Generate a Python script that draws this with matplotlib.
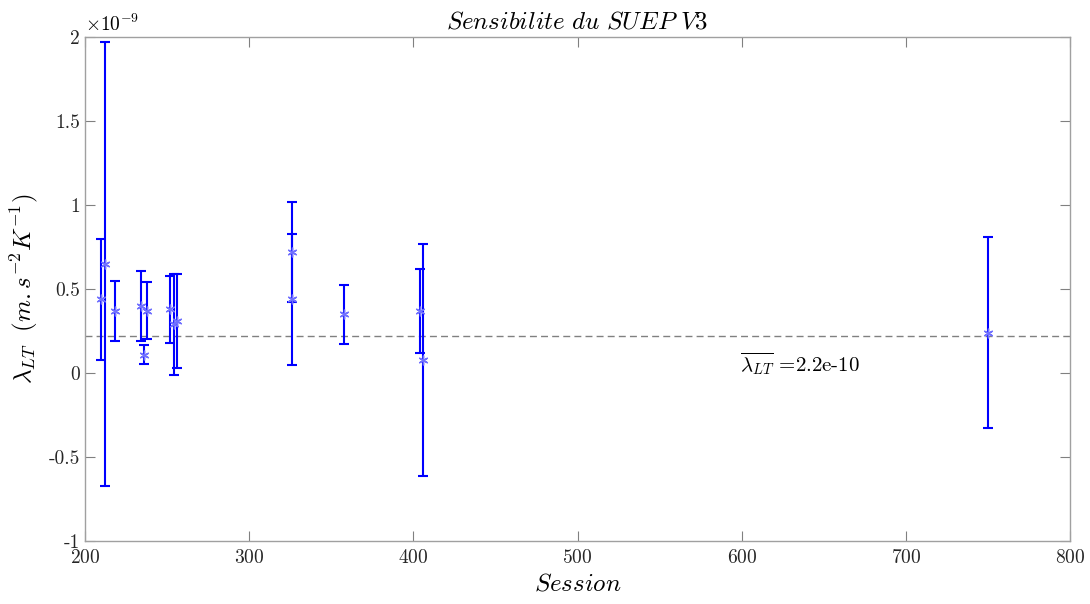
import matplotlib
matplotlib.use("Agg")
import matplotlib.pyplot as plt

plt.rcParams['font.family'] = 'serif'
plt.rcParams['font.serif'] = ['cmr10']
plt.rcParams['mathtext.fontset'] = 'cm'
plt.rcParams['axes.formatter.use_mathtext'] = True

# sessions, sensitivity (x1e-9) and half error bar (x1e-9)
sessions = [210, 212, 218, 234, 236, 238, 252, 254, 256, 326, 326, 358, 404, 406, 750]
lam = [0.44, 0.65, 0.37, 0.40, 0.11, 0.37, 0.38, 0.29, 0.31, 0.72, 0.44, 0.35, 0.37, 0.075, 0.24]
err = [0.36, 1.32, 0.18, 0.21, 0.057, 0.17, 0.20, 0.30, 0.28, 0.30, 0.39, 0.175, 0.25, 0.69, 0.57]
lam_mean = 0.22

scale = 1e-9
fig = plt.figure(figsize=(10.9, 6.04), dpi=100)
ax = fig.add_axes([0.078, 0.1043, 0.9037, 0.8344])

ax.errorbar(sessions, [v * scale for v in lam], yerr=[e * scale for e in err],
            fmt='none', ecolor='#0000ff', elinewidth=1.5, capsize=3.5, capthick=1.5, zorder=3)
ax.plot(sessions, [v * scale for v in lam], ls='none', marker=(6, 2, 0), ms=7,
        color='#7070ff', markeredgewidth=1.0, zorder=4)
ax.axhline(lam_mean * scale, color='#808080', ls='--', lw=1.0, dashes=(5, 3), zorder=2)
ax.text(599, 0.054 * scale, r'$\overline{\lambda_{LT}}$ =2.2e-10', fontsize=15,
        va='center', ha='left')

ax.set_xlim(200, 800)
ax.set_ylim(-1 * scale, 2 * scale)
ax.set_xticks([200, 300, 400, 500, 600, 700, 800])
ax.set_yticks([v * scale for v in [-1, -0.5, 0, 0.5, 1, 1.5, 2]])
ax.set_yticklabels(['-1', '-0.5', '0', '0.5', '1', '1.5', '2'])
ax.text(0.0, 1.005, r'$\times 10^{-9}$', transform=ax.transAxes, fontsize=14,
        ha='left', va='bottom')

ax.set_title(r'$Sensibilite\ du\ SUEP\ V3$', fontsize=18, pad=6)
ax.set_xlabel(r'$Session$', fontsize=18, labelpad=4)
ax.set_ylabel(r'$\lambda_{LT}\ \ (m.s^{-2}K^{-1})$', fontsize=18, labelpad=6)

for s in ax.spines.values():
    s.set_color('#a0a0a0')
    s.set_linewidth(1.0)
ax.tick_params(direction='in', top=True, right=True, length=7, width=0.8,
               color='#808080', labelsize=14, labelcolor='#262626')
ax.tick_params(axis='x', pad=6)

fig.savefig('out.png', dpi=100)
